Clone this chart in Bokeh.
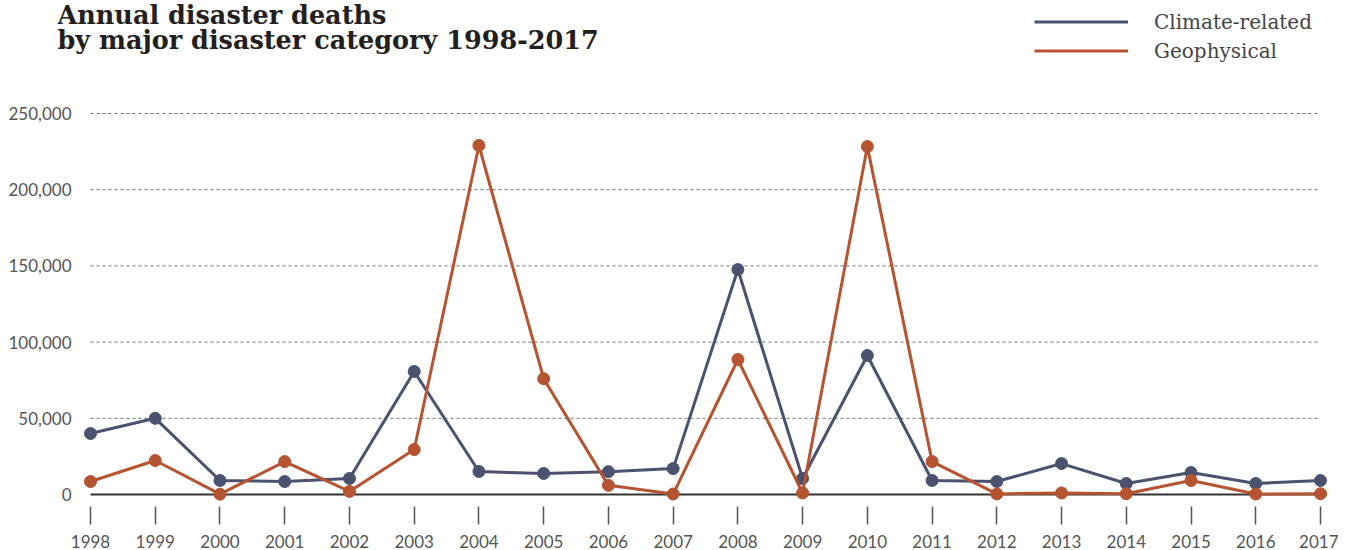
from bokeh.plotting import figure
from bokeh.models import Range1d, FixedTicker, NumeralTickFormatter, Label, Legend, LegendItem
from bokeh.embed import file_html
from bokeh.resources import INLINE

years = list(range(1998, 2018))
climate = [40000, 50000, 9200, 8500, 10500, 80700, 15100, 13800, 15000, 17000,
           147600, 10500, 91200, 9200, 8500, 20300, 7200, 14400, 7200, 9200]
geophysical = [8500, 22300, 200, 21600, 2000, 29500, 229000, 76000, 6000, 300,
               88600, 1000, 228300, 21600, 400, 1000, 500, 9200, 300, 500]
y_ticks = [0, 50000, 100000, 150000, 200000, 250000]
grid_levels = [50000, 100000, 150000, 200000, 250000]
title_lines = ["Annual disaster deaths", "by major disaster category 1998-2017"]
series_names = ["Climate-related", "Geophysical"]

CLIMATE_COLOR = "#4b5270"
GEO_COLOR = "#b65330"

p = figure(width=1338, height=550, output_backend="svg", toolbar_location=None,
           x_range=Range1d(1997.49, 2017.278), y_range=Range1d(-7874, 324150),
           min_border_left=57, min_border_right=0, min_border_top=0, min_border_bottom=44)
p.outline_line_color = None
p.background_fill_color = "white"
p.border_fill_color = "white"
p.xgrid.visible = False
p.ygrid.visible = False

# dashed gridlines
p.segment(x0=[years[0]] * len(grid_levels), x1=[years[-1]] * len(grid_levels),
          y0=grid_levels, y1=grid_levels, line_color="#6e6e6e", line_width=1, line_dash="3 3")
# zero line
p.segment(x0=[years[0]], x1=[years[-1]], y0=[0], y1=[0], line_color="#333333", line_width=2)

r1 = p.line(years, climate, line_color=CLIMATE_COLOR, line_width=3)
p.scatter(years, climate, size=12, fill_color=CLIMATE_COLOR, line_color=CLIMATE_COLOR)
r2 = p.line(years, geophysical, line_color=GEO_COLOR, line_width=3)
p.scatter(years, geophysical, size=12, fill_color=GEO_COLOR, line_color=GEO_COLOR)

# axes
p.xaxis.ticker = FixedTicker(ticks=years)
p.xaxis.axis_line_color = None
p.xaxis.major_tick_in = 0
p.xaxis.major_tick_out = 18
p.xaxis.major_tick_line_color = "#555555"
p.xaxis.major_tick_line_width = 1.5
p.xaxis.minor_tick_line_color = None
p.xaxis.major_label_standoff = 10
p.xaxis.major_label_text_font = "Lato"
p.xaxis.major_label_text_font_size = "17px"
p.xaxis.major_label_text_color = "#555555"

p.yaxis.ticker = FixedTicker(ticks=y_ticks)
p.yaxis.formatter = NumeralTickFormatter(format="0,0")
p.yaxis.axis_line_color = None
p.yaxis.major_tick_line_color = None
p.yaxis.minor_tick_line_color = None
p.yaxis.major_tick_in = 0
p.yaxis.major_tick_out = 0
p.yaxis.major_label_standoff = -14
p.yaxis.major_label_text_font = "Lato"
p.yaxis.major_label_text_font_size = "17px"
p.yaxis.major_label_text_color = "#555555"

# title (first line kept fully visible)
for t, yy in zip(title_lines, [492, 467]):
    p.add_layout(Label(x=0, y=yy, x_units="screen", y_units="screen", text=t,
                       text_font="DejaVu Serif", text_font_size="25.5px", text_font_style="bold",
                       text_color="#231f20", text_baseline="alphabetic", text_align="left"))

legend = Legend(items=[LegendItem(label=series_names[0], renderers=[r1]),
                       LegendItem(label=series_names[1], renderers=[r2])],
                location=(977, 441), orientation="vertical")
legend.padding = 0
legend.margin = 0
legend.spacing = 0
legend.glyph_width = 94
legend.glyph_height = 29
legend.label_height = 29
legend.label_standoff = 26
legend.label_text_font = "DejaVu Serif"
legend.label_text_font_size = "20px"
legend.label_text_color = "#444444"
legend.border_line_color = None
legend.background_fill_alpha = 0
p.add_layout(legend, "center")

open("out.html", "w").write(file_html(p, INLINE))
